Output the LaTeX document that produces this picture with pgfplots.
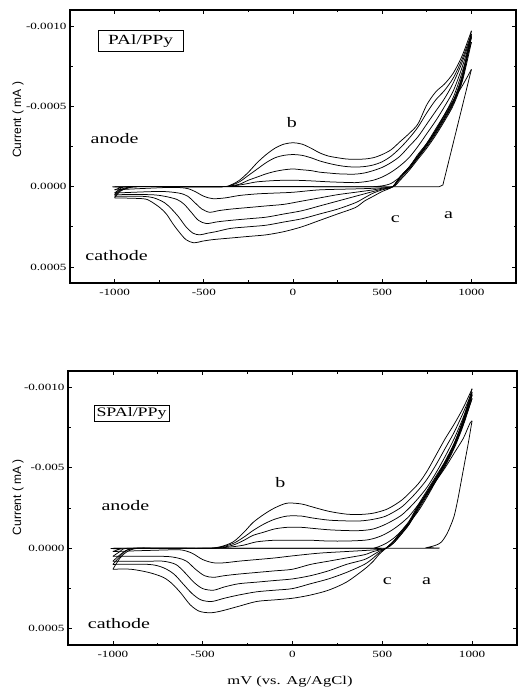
\documentclass[border=0pt]{standalone}
\usepackage{pgfplots}
\pgfplotsset{compat=1.18}
\usepackage{fontspec}
\setmainfont{Liberation Serif}
\newfontfamily\widefont{Liberation Serif}[FakeStretch=1.38]
\newfontfamily\labsans{Liberation Sans}
\pgfplotsset{cvstyle/.style={
  scale only axis,
  xmin=-1250, xmax=1250, ymin=-0.0011, ymax=0.0006, y dir=reverse,
  xtick={-1000,-500,0,500,1000}, xticklabels={-1000,-500,0,500,1000},
  minor xtick={-750,-250,250,750},
  ytick={-0.001,-0.0005,0,0.0005},
  minor ytick={-0.00075,-0.00025,0.00025},
  scaled y ticks=false, scaled x ticks=false,
  tick align=inside,
  major tick length=4pt, minor tick length=2.5pt,
  axis line style={line width=1.1pt},
  every tick/.style={black, line width=0.8pt},
  tick label style={font=\widefont\fontsize{9.5}{11}\selectfont},
  xticklabel style={yshift=-3pt},
  every axis plot/.append style={black, line width=0.75pt},
  fw/.style={smooth, tension=0.5},
}}
\newcommand{\ann}{\widefont\fontsize{14.5}{16}\selectfont}
\begin{document}
\begin{tikzpicture}
\path[use as bounding box] (0pt,0pt) rectangle (521pt,695pt);
% ================= TOP PANEL =================
\begin{axis}[cvstyle, at={(70pt,412pt)}, anchor=south west, width=446pt, height=273pt,
  yticklabels={-0.0010,-0.0005,0.0000,0.0005}]
% curve a
\addplot[sharp plot] coordinates {(-1000,0) (820,0) (840,-0.00001) (1000,-0.00073)};
\addplot[fw] coordinates {(1000,-0.00073) (950,-0.00063) (900,-0.00054) (850,-0.00045) (800,-0.00036) (750,-0.00027) (700,-0.00019) (650,-0.00012) (600,-0.00006) (560,0)};
% cycle 1
\addplot[fw] coordinates {(-1000,0.00002) (-960,0.000005) (-920,0) (400,0) (450,0) (500,-0.000005) (550,-0.00002) (600,-0.00006) (650,-0.00011) (700,-0.00018) (750,-0.00026) (800,-0.00035) (850,-0.00045) (900,-0.00056) (950,-0.00072) (1000,-0.0009)};
\addplot[fw] coordinates {(1000,-0.0009) (950,-0.00066) (900,-0.00051) (850,-0.00041) (800,-0.00032) (750,-0.00024) (700,-0.00017) (650,-0.0001) (600,-0.00004) (560,0) (450,0.00001) (350,0.000014) (150,0.00002) (0,0.000035) (-100,0.00004) (-200,0.000045) (-300,0.000055) (-380,0.00007) (-449,0.000075) (-500,0.00006) (-550,0.00003) (-600,0.00001) (-700,0.000005) (-1000,0.00002)};
% cycle 2
\addplot[fw] coordinates {(-1000,0.00004) (-970,0.000015) (-930,0) (-700,0) (-400,0) (-350,-0.000003) (-300,-0.00001) (-250,-0.00002) (-200,-0.00003) (-100,-0.000038) (0,-0.00004) (100,-0.000036) (200,-0.00003) (300,-0.000026) (350,-0.000025) (400,-0.00003) (450,-0.00004) (500,-0.00006) (550,-0.00009) (600,-0.00013) (650,-0.00018) (700,-0.00025) (750,-0.00033) (800,-0.00041) (850,-0.0005) (900,-0.0006) (950,-0.00075) (1000,-0.00093)};
\addplot[fw] coordinates {(1000,-0.00093) (950,-0.00067) (900,-0.00052) (850,-0.00042) (800,-0.00033) (750,-0.00025) (700,-0.00018) (650,-0.00011) (600,-0.00005) (560,0) (500,0.00001) (450,0.00002) (350,0.000035) (250,0.00005) (150,0.00007) (50,0.00009) (-50,0.00011) (-150,0.00012) (-250,0.00013) (-350,0.00014) (-420,0.00015) (-466,0.00016) (-510,0.00014) (-550,0.0001) (-590,0.00006) (-640,0.00004) (-750,0.00003) (-1000,0.00004)};
% cycle 3
\addplot[fw] coordinates {(-1000,0.00005) (-970,0.00002) (-930,0.000005) (-880,0) (-700,0) (-400,0) (-350,-0.000005) (-300,-0.000015) (-250,-0.00004) (-200,-0.00006) (-150,-0.00008) (-100,-0.000095) (-50,-0.000105) (0,-0.00011) (50,-0.000105) (100,-0.0001) (150,-0.00009) (200,-0.000085) (250,-0.00008) (300,-0.000078) (350,-0.000078) (400,-0.000085) (450,-0.0001) (500,-0.00012) (550,-0.00015) (600,-0.00019) (650,-0.00025) (700,-0.00031) (750,-0.00039) (800,-0.00047) (850,-0.00055) (900,-0.00065) (950,-0.00078) (1000,-0.00094)};
\addplot[fw] coordinates {(1000,-0.00094) (950,-0.00068) (900,-0.00053) (850,-0.00043) (800,-0.00034) (750,-0.00026) (700,-0.00019) (650,-0.00012) (600,-0.00006) (560,0) (500,0.000015) (450,0.00003) (400,0.000045) (350,0.00006) (250,0.00009) (150,0.00012) (50,0.00015) (-50,0.00017) (-150,0.00019) (-250,0.0002) (-350,0.00021) (-430,0.00022) (-485,0.00023) (-530,0.00021) (-570,0.00016) (-610,0.00011) (-650,0.00008) (-720,0.00006) (-800,0.00005) (-1000,0.00005)};
% cycle 4
\addplot[fw] coordinates {(-1000,0.00006) (-970,0.000025) (-930,0.00001) (-880,0) (-700,0) (-400,0) (-350,-0.000008) (-300,-0.00003) (-250,-0.00007) (-200,-0.00011) (-150,-0.00015) (-100,-0.00018) (-50,-0.000195) (0,-0.0002) (50,-0.000195) (100,-0.00018) (150,-0.00016) (200,-0.000145) (250,-0.000133) (300,-0.000125) (350,-0.000122) (400,-0.000125) (450,-0.000135) (500,-0.000155) (550,-0.00019) (600,-0.00024) (650,-0.0003) (700,-0.00037) (750,-0.00046) (800,-0.00054) (850,-0.0006) (900,-0.00068) (950,-0.0008) (1000,-0.00095)};
\addplot[fw] coordinates {(1000,-0.00095) (950,-0.00069) (900,-0.00053) (850,-0.00043) (800,-0.00034) (750,-0.00026) (700,-0.00019) (650,-0.00012) (600,-0.00006) (560,0) (500,0.00002) (450,0.00004) (400,0.00007) (350,0.0001) (250,0.00014) (150,0.00017) (50,0.0002) (-50,0.00022) (-150,0.00024) (-250,0.00025) (-350,0.00026) (-430,0.00028) (-480,0.00029) (-522,0.0003) (-560,0.00029) (-600,0.00025) (-640,0.00019) (-680,0.00014) (-720,0.0001) (-780,0.00007) (-850,0.00006) (-1000,0.00006)};
% cycle 5
\addplot[fw] coordinates {(-1000,0.00007) (-970,0.00003) (-930,0.00001) (-880,0) (-700,0) (-400,0) (-350,-0.00001) (-300,-0.00004) (-250,-0.00009) (-200,-0.00015) (-150,-0.0002) (-100,-0.00024) (-50,-0.000265) (0,-0.000273) (50,-0.000265) (100,-0.00024) (150,-0.00021) (200,-0.00019) (250,-0.00018) (300,-0.000172) (350,-0.00017) (400,-0.000172) (450,-0.00018) (500,-0.0002) (550,-0.00023) (600,-0.00028) (650,-0.00033) (700,-0.00039) (750,-0.00051) (800,-0.00059) (850,-0.00064) (900,-0.00071) (950,-0.00082) (1000,-0.00097)};
\addplot[fw] coordinates {(1000,-0.00097) (950,-0.0007) (900,-0.00054) (850,-0.00044) (800,-0.00035) (750,-0.00027) (700,-0.0002) (650,-0.00012) (600,-0.00006) (560,0) (500,0.00003) (450,0.00006) (400,0.00009) (350,0.00013) (250,0.00017) (150,0.00021) (50,0.00025) (-50,0.00028) (-150,0.0003) (-250,0.00031) (-350,0.00032) (-450,0.00033) (-510,0.00034) (-556,0.00035) (-600,0.00033) (-640,0.00028) (-674,0.00023) (-710,0.00017) (-747,0.00013) (-800,0.00009) (-843,0.000075) (-1000,0.00007)};
% annotations
\node[draw, line width=0.9pt, inner xsep=10pt, inner ysep=4pt, font=\widefont\fontsize{14}{16}\selectfont] at (axis cs:-854,-0.000907) {PAl/PPy};
\node[font=\ann] at (axis cs:-1000,-0.000302) {anode};
\node[font=\ann] at (axis cs:-989,0.000426) {cathode};
\node[font=\ann] at (axis cs:-7,-0.000397) {b};
\node[font=\ann] at (axis cs:573,0.0002) {c};
\node[font=\ann] at (axis cs:872,0.000179) {a};
\end{axis}
\node[rotate=90, font=\labsans\fontsize{12}{14}\selectfont] at (18pt,575pt) {Current ( mA )};
% ================= BOTTOM PANEL =================
\begin{axis}[cvstyle, at={(68pt,50pt)}, anchor=south west, width=449pt, height=274pt,
  yticklabels={-0.0010,-0.005,0.0000,0.0005}]
% curve a
\addplot[fw] coordinates {(-1000,0) (700,0) (750,-0.000005) (800,-0.00002) (830,-0.00004) (860,-0.00009) (880,-0.00014) (900,-0.0002) (920,-0.0003) (940,-0.00042) (960,-0.00054) (980,-0.00066) (995,-0.00076) (1000,-0.00079)};
\addplot[fw] coordinates {(1000,-0.00079) (990,-0.00078) (970,-0.00073) (950,-0.00068) (900,-0.00059) (850,-0.0005) (800,-0.00042) (750,-0.00034) (700,-0.00025) (650,-0.00016) (600,-0.00009) (560,-0.00004) (520,0)};
% cycle 1
\addplot[fw] coordinates {(-1000,0.00002) (-960,0.000005) (-920,0) (400,0) (450,0) (480,-0.00001) (520,-0.00003) (560,-0.00006) (600,-0.0001) (650,-0.00016) (700,-0.00023) (750,-0.00032) (800,-0.00042) (850,-0.00052) (900,-0.00063) (950,-0.00077) (1000,-0.00093)};
\addplot[fw] coordinates {(1000,-0.00093) (950,-0.00076) (900,-0.00062) (850,-0.00051) (800,-0.00042) (750,-0.00033) (700,-0.00024) (650,-0.00015) (600,-0.00008) (560,-0.00003) (520,0) (450,0.00001) (300,0.00002) (150,0.00003) (0,0.000047) (-100,0.00006) (-200,0.00007) (-300,0.00008) (-380,0.00009) (-440,0.00009) (-500,0.00007) (-560,0.00003) (-620,0.00001) (-700,0.00001) (-1000,0.00002)};
% cycle 2
\addplot[fw] coordinates {(-1000,0.00005) (-960,0.00002) (-920,0) (-700,0) (-470,0) (-400,-0.000003) (-330,-0.00001) (-270,-0.00002) (-200,-0.00004) (-100,-0.00005) (0,-0.00005) (100,-0.00005) (200,-0.000045) (300,-0.000045) (400,-0.00005) (450,-0.00006) (500,-0.00008) (550,-0.00011) (600,-0.00015) (650,-0.0002) (700,-0.00027) (750,-0.00034) (800,-0.00043) (850,-0.00054) (900,-0.00065) (950,-0.00079) (1000,-0.00095)};
\addplot[fw] coordinates {(1000,-0.00095) (950,-0.00077) (900,-0.00063) (850,-0.00052) (800,-0.00043) (750,-0.00034) (700,-0.00025) (650,-0.00015) (600,-0.00008) (560,-0.00003) (520,0) (450,0.00002) (400,0.00004) (300,0.00006) (200,0.00008) (100,0.0001) (0,0.00013) (-100,0.00014) (-200,0.00015) (-300,0.00016) (-380,0.00017) (-440,0.00018) (-490,0.00017) (-540,0.00013) (-590,0.00008) (-640,0.00006) (-720,0.00005) (-1000,0.00005)};
% cycle 3
\addplot[fw] coordinates {(-1000,0.00008) (-960,0.00004) (-920,0.00001) (-860,0) (-700,0) (-470,0) (-400,-0.000005) (-330,-0.00002) (-270,-0.00005) (-220,-0.00008) (-160,-0.0001) (-100,-0.00012) (-30,-0.00013) (50,-0.00013) (100,-0.000125) (200,-0.000115) (300,-0.00011) (380,-0.00011) (450,-0.00012) (520,-0.00015) (600,-0.0002) (650,-0.00025) (700,-0.00031) (750,-0.00038) (800,-0.00047) (850,-0.00057) (900,-0.00068) (950,-0.00081) (1000,-0.00096)};
\addplot[fw] coordinates {(1000,-0.00096) (950,-0.00078) (900,-0.00064) (850,-0.00053) (800,-0.00044) (750,-0.00035) (700,-0.00026) (650,-0.00016) (600,-0.00009) (560,-0.00004) (520,0) (480,0.00002) (450,0.00004) (400,0.00007) (300,0.0001) (200,0.00014) (100,0.00017) (0,0.00019) (-100,0.0002) (-200,0.00021) (-300,0.00022) (-380,0.00024) (-440,0.00026) (-500,0.00025) (-550,0.00021) (-600,0.00015) (-650,0.0001) (-720,0.00008) (-800,0.00008) (-1000,0.00008)};
% cycle 4
\addplot[fw] coordinates {(-1000,0.0001) (-960,0.00005) (-920,0.00001) (-860,0) (-700,0) (-470,0) (-400,-0.000008) (-330,-0.00003) (-270,-0.00007) (-220,-0.00011) (-160,-0.00015) (-100,-0.00018) (-30,-0.0002) (50,-0.0002) (100,-0.00019) (200,-0.000175) (300,-0.00017) (380,-0.00017) (450,-0.00018) (520,-0.0002) (600,-0.00025) (650,-0.0003) (700,-0.00036) (750,-0.00043) (800,-0.00052) (850,-0.00062) (900,-0.00072) (950,-0.00084) (1000,-0.00097)};
\addplot[fw] coordinates {(1000,-0.00097) (950,-0.00079) (900,-0.00064) (850,-0.00053) (800,-0.00044) (750,-0.00035) (700,-0.00026) (650,-0.00016) (600,-0.00009) (560,-0.00004) (520,0) (480,0.00003) (450,0.00006) (400,0.0001) (300,0.00015) (200,0.00019) (100,0.00022) (0,0.00025) (-100,0.00026) (-200,0.00027) (-300,0.00029) (-380,0.00031) (-450,0.00033) (-510,0.00032) (-560,0.00028) (-610,0.00022) (-660,0.00016) (-720,0.00012) (-800,0.0001) (-1000,0.0001)};
% cycle 5
\addplot[fw] coordinates {(-1000,0.00013) (-960,0.00006) (-920,0.00002) (-860,0) (-700,0) (-470,0) (-400,-0.00001) (-330,-0.00004) (-270,-0.0001) (-220,-0.00016) (-160,-0.00021) (-100,-0.00025) (-30,-0.00028) (50,-0.000275) (100,-0.00026) (200,-0.00023) (300,-0.000212) (380,-0.00021) (450,-0.000218) (520,-0.00024) (570,-0.00027) (620,-0.00031) (700,-0.0004) (750,-0.00048) (800,-0.00058) (850,-0.00068) (900,-0.00077) (950,-0.00087) (1000,-0.00099)};
\addplot[fw] coordinates {(1000,-0.00099) (950,-0.0008) (900,-0.00065) (850,-0.00054) (800,-0.00045) (750,-0.00036) (700,-0.00027) (650,-0.00017) (600,-0.0001) (560,-0.00004) (520,0) (480,0.00004) (450,0.00008) (400,0.00013) (300,0.00021) (200,0.00026) (100,0.00029) (0,0.00031) (-100,0.00032) (-200,0.00033) (-300,0.00036) (-400,0.00039) (-460,0.0004) (-520,0.00039) (-570,0.00035) (-620,0.00028) (-670,0.00022) (-720,0.00018) (-800,0.00015) (-900,0.00013) (-1000,0.00013)};
% annotations
\node[draw, line width=0.9pt, inner xsep=2.5pt, inner ysep=2pt, font=\widefont\fontsize{13}{15}\selectfont] at (axis cs:-896,-0.000836) {SPAl/PPy};
\node[font=\ann] at (axis cs:-930,-0.000265) {anode};
\node[font=\ann] at (axis cs:-966,0.000469) {cathode};
\node[font=\ann] at (axis cs:-67,-0.000405) {b};
\node[font=\ann] at (axis cs:528,0.000202) {c};
\node[font=\ann] at (axis cs:747,0.000202) {a};
\end{axis}
\node[rotate=90, font=\labsans\fontsize{12}{14}\selectfont] at (18pt,198pt) {Current ( mA )};
\node[font=\widefont\fontsize{12}{14}\selectfont] at (290pt,13pt) {mV (vs. Ag/AgCl)};
\end{tikzpicture}
\end{document}
